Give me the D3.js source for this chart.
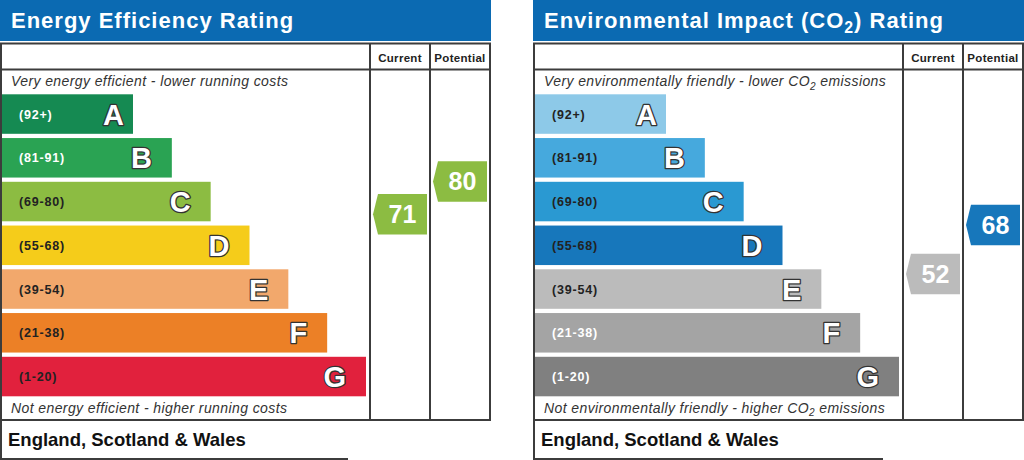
<!DOCTYPE html>
<html>
<head>
<meta charset="utf-8">
<script src="https://cdn.jsdelivr.net/npm/d3@7"></script>
<style>
  body { margin: 0; background: #fff; }
  svg { display: block; font-family: "Liberation Sans", Arial, sans-serif; }
</style>
</head>
<body>
<svg id="chart" width="1024" height="460"></svg>
<script>
// rating bands, shared by both panels
var ratingLetters = ["A", "B", "C", "D", "E", "F", "G"];
var ratingRanges = ["(92+)", "(81-91)", "(69-80)", "(55-68)", "(39-54)", "(21-38)", "(1-20)"];
var bandLow = [92, 81, 69, 55, 39, 21, 1];
var bandHigh = [100, 91, 80, 68, 54, 38, 20];

// the two ratings per panel
var energyCurrent = 71, energyPotential = 80;
var co2Current = 52, co2Potential = 68;

// colours
var energyColours = ["#158a52", "#2aa353", "#8cbc42", "#f5cc1a", "#f2a86c", "#ec8026", "#e1213d"];
var energyLabelInk = ["#fff", "#fff", "#222", "#222", "#222", "#222", "#222"];
var co2Colours = ["#8dc9e8", "#46a9dd", "#2a99d2", "#1777bb", "#bbbbbb", "#a4a4a4", "#808080"];
var co2LabelInk = ["#222", "#222", "#222", "#222", "#222", "#fff", "#fff"];

var TITLE_BLUE = "#0b6ab2";
var LINE = "#3c3c3c";

var svg = d3.select("#chart");

// vertical band scale for the bars
var y = d3.scaleBand()
    .domain(ratingLetters)
    .range([94.3, 396.3])
    .paddingInner(0.097)
    .paddingOuter(0);

// bar length grows with band index
var barLen = d3.scaleLinear().domain([0, 6]).range([131, 364]);

function bandIndex(v) {
    for (var i = 0; i < bandLow.length; i++) {
        if (v >= bandLow[i] && v <= bandHigh[i]) return i;
    }
    return 6;
}

// centre of an arrow for a value: band centre, nudged by where it sits inside the band
function arrowY(v) {
    var i = bandIndex(v);
    var inBand = d3.scaleLinear()
        .domain([bandLow[i] - 0.5, bandHigh[i] + 0.5])
        .range([y.step() / 2, -y.step() / 2]);
    return y(ratingLetters[i]) + y.bandwidth() / 2 + inBand(v);
}

// text with a subscript "2" after CO
function addCO2Text(sel, before, after, size) {
    sel.append("tspan").text(before + "CO");
    sel.append("tspan").attr("dy", size * 0.25).attr("font-size", size * 0.72).text("2");
    sel.append("tspan").attr("dy", -size * 0.25).text(after);
}

function drawPanel(x0, opt) {
    var g = svg.append("g").attr("transform", "translate(" + x0 + ",0)");
    var colCur = 370, colPot = 430, right = 490;

    // title bar
    g.append("rect")
        .attr("x", 0).attr("y", 0)
        .attr("width", opt.titleW).attr("height", 41)
        .attr("fill", TITLE_BLUE);
    var t = g.append("text")
        .attr("x", 11).attr("y", 27.5)
        .attr("fill", "#fff")
        .attr("font-size", 22).attr("font-weight", "bold")
        .attr("letter-spacing", 1);
    if (opt.co2) addCO2Text(t, "Environmental Impact (", ") Rating", 22);
    else t.text(opt.title);

    // bars
    var bars = g.append("g").selectAll("g")
        .data(ratingLetters)
        .enter().append("g");

    bars.append("rect")
        .attr("x", 2)
        .attr("y", function(d) { return y(d); })
        .attr("width", function(d, i) { return barLen(i); })
        .attr("height", y.bandwidth())
        .attr("fill", function(d, i) { return opt.colours[i]; });

    bars.append("text")
        .attr("x", 19)
        .attr("y", function(d) { return y(d) + y.bandwidth() / 2 + 4.5; })
        .attr("font-size", 12.5).attr("font-weight", "bold")
        .attr("letter-spacing", 0.8)
        .attr("fill", function(d, i) { return opt.ink[i]; })
        .text(function(d, i) { return ratingRanges[i]; });

    bars.append("text")
        .attr("x", function(d, i) { return 2 + barLen(i) - (i == 0 ? 9 : 20); })
        .attr("y", function(d) { return y(d) + y.bandwidth() / 2 + 10.5; })
        .attr("text-anchor", "end")
        .attr("font-size", 29).attr("font-weight", "bold")
        .attr("fill", "#fff")
        .attr("stroke", "#333").attr("stroke-width", 2.6)
        .attr("paint-order", "stroke")
        .attr("stroke-linejoin", "round")
        .text(function(d) { return d; });

    // frame
    g.append("rect")
        .attr("x", 1).attr("y", 43.5)
        .attr("width", right - 1).attr("height", 376.5)
        .attr("fill", "none").attr("stroke", LINE).attr("stroke-width", 2);
    g.append("line")
        .attr("x1", 1).attr("x2", right).attr("y1", 69.5).attr("y2", 69.5)
        .attr("stroke", LINE).attr("stroke-width", 2);
    [colCur, colPot].forEach(function(cx) {
        g.append("line")
            .attr("x1", cx).attr("x2", cx).attr("y1", 43.5).attr("y2", 420)
            .attr("stroke", LINE).attr("stroke-width", 2);
    });
    g.append("path")
        .attr("d", "M1,420V459H" + opt.footW)
        .attr("fill", "none").attr("stroke", LINE).attr("stroke-width", 2);

    // column headers
    [["Current", colCur, colPot], ["Potential", colPot, right]].forEach(function(h) {
        g.append("text")
            .attr("x", (h[1] + h[2]) / 2).attr("y", 61.5)
            .attr("text-anchor", "middle")
            .attr("font-size", 11.5).attr("font-weight", "bold")
            .attr("letter-spacing", 0.3)
            .attr("fill", "#222")
            .text(h[0]);
    });

    // top / bottom notes
    var top = g.append("text")
        .attr("x", 11).attr("y", 86)
        .attr("font-size", 14).attr("font-style", "italic")
        .attr("letter-spacing", 0.4).attr("fill", "#333");
    var bot = g.append("text")
        .attr("x", 11).attr("y", 412.5)
        .attr("font-size", 14).attr("font-style", "italic")
        .attr("letter-spacing", 0.4).attr("fill", "#333");
    if (opt.co2) {
        addCO2Text(top, "Very environmentally friendly - lower ", " emissions", 14);
        addCO2Text(bot, "Not environmentally friendly - higher ", " emissions", 14);
    } else {
        top.text("Very energy efficient - lower running costs");
        bot.text("Not energy efficient - higher running costs");
    }

    // footer
    g.append("text")
        .attr("x", 8).attr("y", 446)
        .attr("font-size", 18.5).attr("font-weight", "bold")
        .attr("fill", "#111")
        .text("England, Scotland & Wales");

    // current / potential arrows
    var arrows = [[opt.current, colCur, colPot], [opt.potential, colPot, right]];
    arrows.forEach(function(a) {
        var v = a[0];
        var cy = arrowY(v);
        var h = y.bandwidth() + 1;
        var xl = a[1] + 3, xr = a[2] - 3, notch = 5;
        var pts = [[xl + notch, cy - h / 2], [xr, cy - h / 2], [xr, cy + h / 2],
                   [xl + notch, cy + h / 2], [xl, cy]];
        g.append("path")
            .attr("d", d3.line()(pts) + "Z")
            .attr("fill", opt.colours[bandIndex(v)]);
        g.append("text")
            .attr("x", (xl + notch + xr) / 2).attr("y", cy + 9)
            .attr("text-anchor", "middle")
            .attr("font-size", 25).attr("font-weight", "bold")
            .attr("fill", "#fff")
            .text(v);
    });
}

drawPanel(0, {
    title: "Energy Efficiency Rating", titleW: 491, footW: 348,
    colours: energyColours, ink: energyLabelInk,
    current: energyCurrent, potential: energyPotential
});
drawPanel(533, {
    co2: true, titleW: 491, footW: 350,
    colours: co2Colours, ink: co2LabelInk,
    current: co2Current, potential: co2Potential
});
</script>
</body>
</html>
